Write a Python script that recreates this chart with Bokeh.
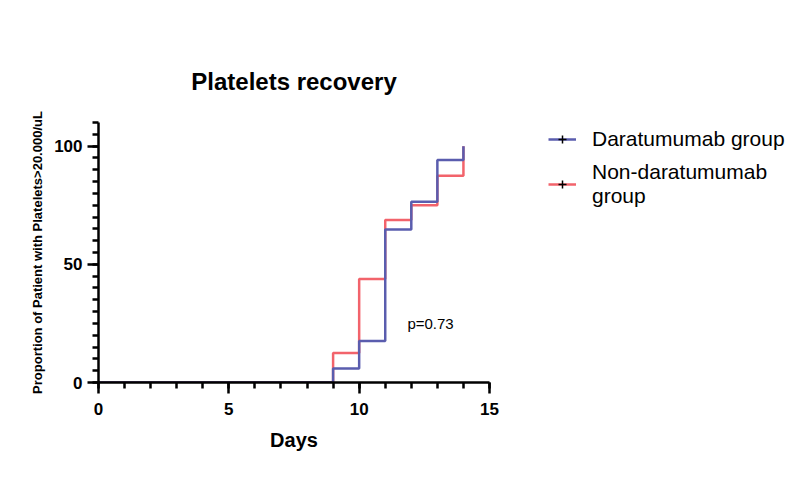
from bokeh.plotting import figure
from bokeh.models import (Range1d, FixedTicker, Legend, LegendItem, Label, Title)
from bokeh.embed import file_html
from bokeh.resources import INLINE

# Data
days = [0, 9, 10, 11, 12, 13, 14]
dara = [0, 5.9, 17.6, 64.7, 76.5, 94.1, 100]
non_dara = [0, 12.5, 43.75, 68.75, 75, 87.5, 100]
x_major = [0, 5, 10, 15]
y_major = [0, 50, 100]
p_text = "p=0.73"

BLUE = "#5A5DAE"
RED = "#F2636B"
FONT = "Liberation Sans"

p = figure(width=784, height=465, output_backend="svg", toolbar_location=None,
           x_range=Range1d(0, 15), y_range=Range1d(0, 110),
           frame_width=391, frame_height=260,
           min_border_left=98, min_border_top=122, min_border_right=10, min_border_bottom=10)
p.title = Title(text="Platelets recovery", align="center", text_font=FONT,
                text_font_size="24px", text_font_style="bold", text_color="black", standoff=56)
p.outline_line_color = None
p.grid.visible = False
p.background_fill_color = None
p.border_fill_color = None

r_red = p.step(days, non_dara, mode="after", line_color=RED, line_width=2.5)
r_blue = p.step(days, dara, mode="after", line_color=BLUE, line_width=2.5)
# legend-only cap mark (hidden in the plot itself)
cap = p.scatter(days, dara, marker="cross", size=7,
                line_color="black", line_width=1.5)
cap.visible = False

for ax in (p.xaxis[0], p.yaxis[0]):
    ax.axis_line_width = 2.5
    ax.axis_line_color = "black"
    ax.major_tick_line_width = 2.5
    ax.minor_tick_line_width = 2.5
    ax.major_tick_in = 0
    ax.minor_tick_in = 0
    ax.major_tick_out = 11
    ax.minor_tick_out = 6
    ax.major_tick_line_color = "black"
    ax.minor_tick_line_color = "black"
    ax.major_label_text_font = FONT
    ax.major_label_text_font_style = "bold"
    ax.major_label_text_font_size = "17px"
    ax.major_label_text_color = "black"
    ax.axis_label_text_font = FONT
    ax.axis_label_text_font_style = "bold"
    ax.axis_label_text_color = "black"

p.xaxis[0].ticker = FixedTicker(ticks=x_major, minor_ticks=list(range(0, 16)))
p.yaxis[0].ticker = FixedTicker(ticks=y_major, minor_ticks=list(range(0, 111, 5)))
p.xaxis[0].major_label_standoff = 9
p.yaxis[0].major_label_standoff = 5
p.xaxis[0].axis_label = "Days"
p.xaxis[0].axis_label_text_font_size = "20px"
p.xaxis[0].axis_label_standoff = 11
p.yaxis[0].axis_label = "Proportion of Patient with Platelets>20.000/uL"
p.yaxis[0].axis_label_text_font_size = "13px"
p.yaxis[0].axis_label_standoff = 6

p.add_layout(Label(x=11.85, y=25, text=p_text, text_font=FONT, text_font_size="15px",
                   text_baseline="middle", text_align="left", text_color="black"))

legend = Legend(items=[
    LegendItem(label="Daratumumab group", renderers=[r_blue, cap], index=0),
    LegendItem(label="Non-daratumumab\ngroup", renderers=[r_red, cap], index=0),
], location=(59, 174), padding=0, margin=0, spacing=9,
    glyph_width=28, label_standoff=16, border_line_color=None,
    background_fill_alpha=0, label_text_font=FONT, label_text_font_size="21px",
    label_text_color="black", label_text_line_height=1.33)
p.add_layout(legend, "right")

open("out.html", "w").write(file_html(p, INLINE))
